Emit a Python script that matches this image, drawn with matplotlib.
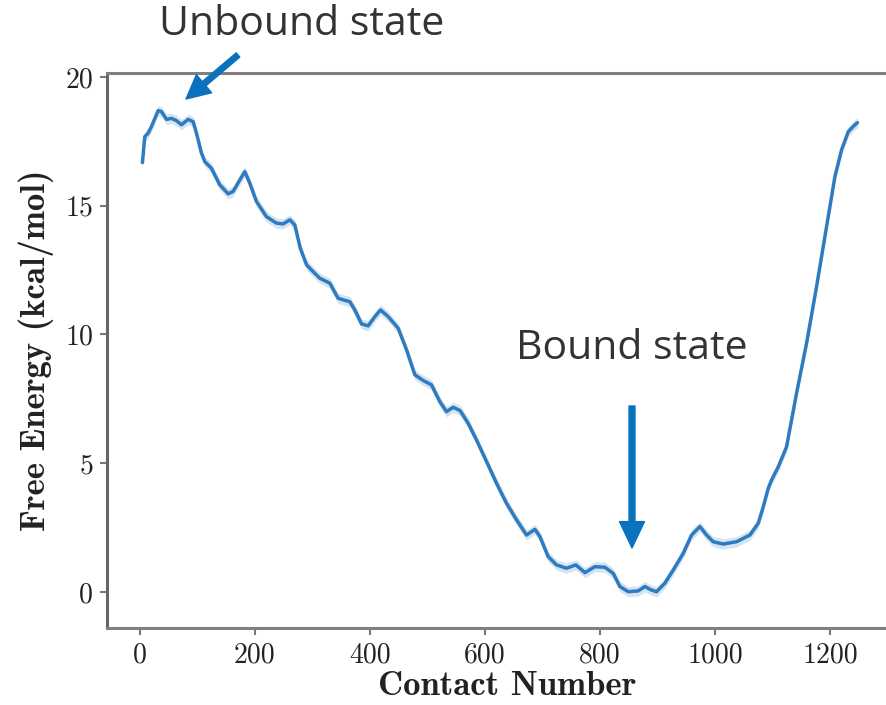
import numpy as np
import matplotlib
matplotlib.use("Agg")
import matplotlib.pyplot as plt

# Free-energy profile along the contact-number coordinate
contact = [4.6, 8.7, 14.5, 20.3, 31.9, 37.7, 46.4, 55.1, 63.8, 72.5, 84.1, 92.8,
           98.6, 107.2, 113, 124.6, 139, 153.6, 162.3, 174, 182.6, 191.3, 202.9,
           220.3, 237.7, 249.3, 260.9, 269.6, 279, 290, 298.6, 313, 330.4, 344.9,
           365.2, 373.9, 385.5, 397.1, 408.7, 418.6, 431.9, 449.3, 463.8, 478.3,
           492.8, 507.3, 521.7, 533.3, 544.9, 557, 571, 585.5, 603, 620.3, 637.7,
           655.1, 672.5, 687, 695.7, 710.1, 724.6, 742, 758.3, 773.9, 791.3,
           808.7, 823.2, 834.8, 849.3, 866.6, 878.3, 889, 898.6, 913, 927.5,
           944.9, 959.4, 973.9, 985.5, 997.1, 1014.4, 1037.7, 1060.9, 1075.4,
           1084.1, 1092.8, 1098.6, 1110, 1124.6, 1142, 1159.4, 1176.8, 1194.2,
           1208.7, 1220.3, 1232, 1243.5, 1248]
energy = [16.67, 17.68, 17.81, 18.07, 18.69, 18.65, 18.35, 18.39, 18.30, 18.14,
          18.35, 18.26, 17.81, 17.04, 16.71, 16.45, 15.81, 15.46, 15.55, 16.0,
          16.32, 15.87, 15.16, 14.57, 14.32, 14.29, 14.45, 14.25, 13.35, 12.70,
          12.5, 12.18, 11.99, 11.40, 11.27, 10.95, 10.41, 10.33, 10.69, 10.95,
          10.69, 10.24, 9.40, 8.43, 8.21, 8.04, 7.39, 7.00, 7.17, 7.04, 6.55,
          5.90, 5.06, 4.22, 3.44, 2.80, 2.21, 2.43, 2.15, 1.37, 1.05, 0.92,
          1.05, 0.75, 0.98, 0.96, 0.72, 0.21, 0.01, 0.04, 0.21, 0.08, 0.01,
          0.34, 0.85, 1.50, 2.21, 2.54, 2.21, 1.95, 1.86, 1.95, 2.21, 2.67,
          3.31, 4.03, 4.35, 4.85, 5.64, 7.72, 9.66, 11.86, 14.19, 16.13, 17.17,
          17.88, 18.14, 18.22]
band = 0.2

x_ticks = [0, 200, 400, 600, 800, 1000, 1200]
y_ticks = [0, 5, 10, 15, 20]

plt.rcParams["axes.unicode_minus"] = False

W, H = 886, 705
fig = plt.figure(figsize=(W / 100, H / 100), dpi=100)
# the plot frame runs off the right-hand edge of the canvas
ax = fig.add_axes([107 / W, 77 / H, 800 / W, 555 / H])

line_col = "#2f7bbf"
x = np.array(contact, dtype=float)
y = np.array(energy, dtype=float)
ax.fill_between(x, y - band, y + band, color=line_col, alpha=0.2, lw=0)
ax.plot(x, y, color=line_col, lw=2.5, solid_capstyle="round", solid_joinstyle="round")

ax.set_xlim(-57, 1334)
ax.set_ylim(-1.4, 20.15)
ax.set_xticks(x_ticks)
ax.set_yticks(y_ticks)

tick_font = dict(family="cmr10", size=20, color="#222222")
ax.set_xticklabels([str(v) for v in x_ticks], **tick_font)
ax.set_yticklabels([str(v) for v in y_ticks], **tick_font)
ax.tick_params(direction="out", length=5, width=1.5, color="#777777", pad=5)

for side, sp in ax.spines.items():
    sp.set_color("#808080")
    sp.set_linewidth(2.2)
ax.spines["left"].set_color("#666666")

label_font = dict(family="cmb10", size=25, color="#222222")
ax.set_xlabel("Contact Number", labelpad=2, **label_font)
ax.set_ylabel("Free Energy (kcal/mol)", labelpad=8, **label_font)

# Callouts
def fx(px):
    return px / W

def fy(py):
    return 1 - py / H

note_font = dict(family="Open Sans", size=29.5, color="#333333")
fig.text(fx(302), fy(25), "Unbound state", ha="center", va="center", **note_font)
fig.text(fx(632), fy(349), "Bound state", ha="center", va="center", **note_font)

arrow_col = "#0a72bd"
ax.annotate("", xy=(fx(186), fy(99)), xycoords="figure fraction",
            xytext=(fx(238), fy(55)), textcoords="figure fraction",
            arrowprops=dict(width=4, headwidth=17, headlength=17,
                            facecolor=arrow_col, edgecolor=arrow_col, shrink=0),
            annotation_clip=False)
ax.annotate("", xy=(fx(632), fy(548)), xycoords="figure fraction",
            xytext=(fx(632), fy(406)), textcoords="figure fraction",
            arrowprops=dict(width=4.3, headwidth=18, headlength=19,
                            facecolor=arrow_col, edgecolor=arrow_col, shrink=0),
            annotation_clip=False)

fig.savefig("out.png", dpi=100)
